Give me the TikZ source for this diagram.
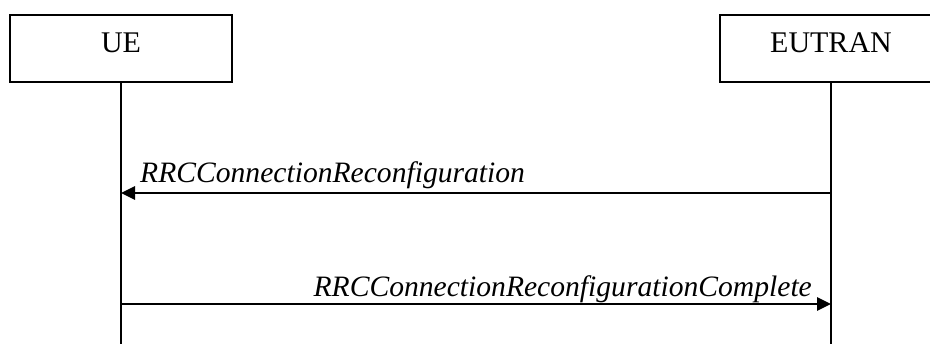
\documentclass[tikz,border=0pt]{standalone}
\usepackage{fontspec}
\setmainfont{Liberation Serif}
\usetikzlibrary{arrows.meta}
\usetikzlibrary{positioning}

\tikzset{
  entity/.style={draw,line width=2.4pt,minimum width=222pt,minimum height=67pt,
    text height=20pt,text depth=11pt,inner sep=0pt,font=\fontsize{30}{36}\selectfont},
  lifeline/.style={line width=2.4pt},
  msg/.style={line width=2.6pt,-{Triangle[length=14pt,width=13pt]}},
  msglabel/.style={inner sep=0pt,font=\fontsize{29.6}{36}\selectfont\itshape}
}

\begin{document}
\begin{tikzpicture}[x=1pt,y=1pt,line cap=butt]
\useasboundingbox (0,0) rectangle (930,-344);
% entities
\node[entity] (ue) at (121,-48.5) {UE};
\node[entity] (eutran) at (831,-48.5) {EUTRAN};
% lifelines
\coordinate (ueend) at (121,-344);
\coordinate (eutranend) at (831,-344);
\draw[lifeline] (ue.south) -- (ueend);
\draw[lifeline] (eutran.south) -- (eutranend);
% messages
\coordinate (m1e) at (831,-193);
\coordinate (m1u) at (121,-193);
\coordinate (m2u) at (121,-304);
\coordinate (m2e) at (831,-304);
\draw[msg] (m1e) -- (m1u);
\node[msglabel,anchor=base west] (m1) at (140,-183) {RRCConnectionReconfiguration};
\draw[msg] (m2u) -- (m2e);
\node[msglabel,anchor=base east] (m2) at (812,-297) {RRCConnectionReconfigurationComplete};
\end{tikzpicture}
\end{document}
